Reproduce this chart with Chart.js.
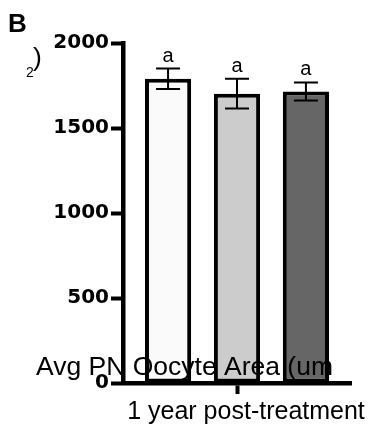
<!DOCTYPE html>
<html>
<head>
<meta charset="utf-8">
<script src="https://cdn.jsdelivr.net/npm/chart.js@4/dist/chart.umd.min.js"></script>
<style>
  body { margin: 0; background: #fff; }
  canvas { display: block; }
</style>
</head>
<body>
<canvas id="chart" width="380" height="433"></canvas>
<script>
// data
const categories = ['1 year post-treatment'];
const groups = ['group 1', 'group 2', 'group 3'];
const means = [1790, 1702, 1715];
const errors = [60, 87, 53];
const letters = ['a', 'a', 'a'];
const fills = ['#fafafa', '#cccccc', '#666666'];

const datasets = groups.map((g, i) => ({
  label: g,
  data: [means[i]],
  backgroundColor: fills[i],
  borderColor: '#000',
  borderWidth: 4,
  borderSkipped: false,
  categoryPercentage: 0.907,
  barPercentage: 0.67
}));

// error bars + letters, positioned through the y scale
const errorBars = {
  id: 'errorBars',
  afterDatasetsDraw(chart) {
    const ctx = chart.ctx;
    const y = chart.scales.y;
    ctx.save();
    ctx.strokeStyle = '#000';
    ctx.lineWidth = 2;
    chart.data.datasets.forEach((ds, i) => {
      const bar = chart.getDatasetMeta(i).data[0];
      const x = bar.x;
      const hi = y.getPixelForValue(means[i] + errors[i]);
      const lo = y.getPixelForValue(means[i] - errors[i]);
      ctx.beginPath();
      ctx.moveTo(x, hi); ctx.lineTo(x, lo);
      ctx.moveTo(x - 12, hi); ctx.lineTo(x + 12, hi);
      ctx.moveTo(x - 12, lo); ctx.lineTo(x + 12, lo);
      ctx.stroke();
      ctx.fillStyle = '#000';
      ctx.font = '20px "Liberation Sans", Arial, sans-serif';
      ctx.textAlign = 'center';
      ctx.textBaseline = 'alphabetic';
      ctx.fillText(letters[i], x, hi - 7);
    });
    ctx.restore();
  }
};

// panel letter and the (misplaced) y axis title as in the original figure
const extraText = {
  id: 'extraText',
  afterDraw(chart) {
    const ctx = chart.ctx;
    ctx.save();
    ctx.fillStyle = '#000';
    ctx.textAlign = 'left';
    ctx.textBaseline = 'alphabetic';
    ctx.font = 'bold 26px "Liberation Sans", Arial, sans-serif';
    ctx.fillText('B', 8, 32);
    ctx.font = '26.5px "Liberation Sans", Arial, sans-serif';
    ctx.fillText('Avg PN Oocyte Area (um', 36, 375);
    ctx.fillText(')', 33, 66);
    ctx.font = '14px "Liberation Sans", Arial, sans-serif';
    ctx.fillText('2', 26, 77);
    ctx.restore();
  }
};

new Chart(document.getElementById('chart'), {
  type: 'bar',
  data: { labels: categories, datasets: datasets },
  options: {
    responsive: false,
    animation: false,
    layout: { padding: { top: 43, right: 29, left: 0, bottom: 0 } },
    plugins: { legend: { display: false }, tooltip: { enabled: false } },
    scales: {
      x: {
        grid: { drawOnChartArea: false, offset: false, tickLength: 11, tickWidth: 4, color: '#000' },
        border: { color: '#000', width: 4.5 },
        ticks: {
          color: '#000',
          font: { family: 'Liberation Sans', size: 25 },
          padding: 3,
          labelOffset: 9,
          maxRotation: 0
        },
        afterFit(s) { s.height = 50; }
      },
      y: {
        min: 0,
        max: 2000,
        grid: { drawOnChartArea: false, tickLength: 12, tickWidth: 4, color: '#000' },
        border: { color: '#000', width: 4.5 },
        ticks: {
          stepSize: 500,
          color: '#000',
          font: { family: 'DejaVu Sans', size: 20, weight: 'bold' },
          padding: 2,
          callback: v => String(v)
        },
        afterFit(s) { s.width = 123; }
      }
    }
  },
  plugins: [errorBars, extraText]
});
</script>
</body>
</html>
